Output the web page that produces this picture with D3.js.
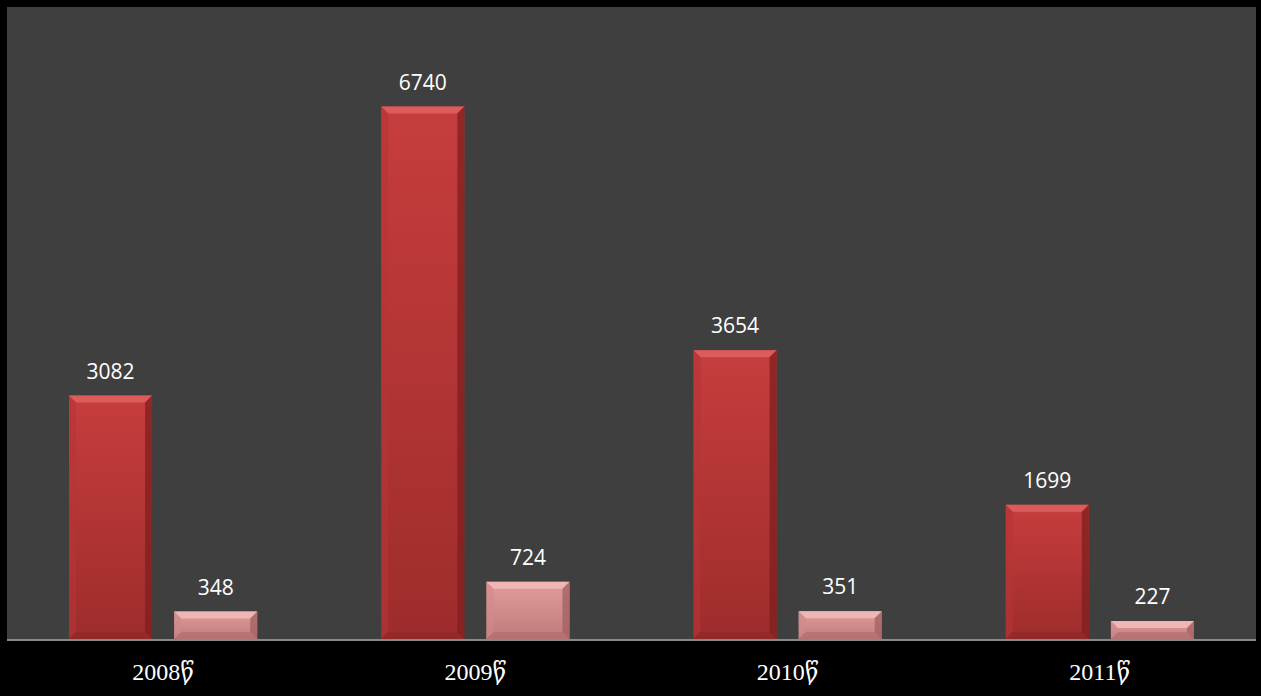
<!DOCTYPE html>
<html>
<head>
<meta charset="utf-8">
<script src="https://cdn.jsdelivr.net/npm/d3@7"></script>
<style>
  body { margin: 0; background: #000; }
  svg { display: block; }
</style>
</head>
<body>
<div class="c_chart"></div>
<script>
/* DATA */
const years = ["2008წ", "2009წ", "2010წ", "2011წ"];
const seriesA = [3082, 6740, 3654, 1699];
const seriesB = [348, 724, 351, 227];
const yMax = 8000;

/* SVG, FORMAT */
const width = 1261;
const height = 696;
const plot = {left: 7, right: 1256, top: 7, bottom: 639};

let svg = d3.select(".c_chart")
	.append("svg")
	.attr("width", width)
	.attr("height", height);

svg.append("rect")
	.attr("width", width).attr("height", height)
	.attr("fill", "#000");

svg.append("rect")
	.attr("x", plot.left).attr("y", plot.top)
	.attr("width", plot.right - plot.left).attr("height", plot.bottom - plot.top)
	.attr("fill", "#3f3f3f");

/* SCALES */
const x = d3.scaleBand()
	.domain(years)
	.range([plot.left, plot.right])
	.paddingInner(0)
	.paddingOuter(0);

const xInner = d3.scaleBand()
	.domain(["a", "b"])
	.range([0, x.bandwidth()])
	.paddingInner(0.21)
	.paddingOuter(0.59);

const y = d3.scaleLinear()
	.domain([0, yMax])
	.range([plot.bottom, plot.top]);

/* GRADIENTS */
const defs = svg.append("defs");
const palettes = {
	a: {top: "#c73d3d", bottom: "#9e2c2c", hi: "#dc5c5c", side: "#7e1f1f", left: "#b53636", low: "#8c2626"},
	b: {top: "#e09c9c", bottom: "#c27a7a", hi: "#f0b6b6", side: "#a06060", left: "#d08b8b", low: "#ad6c6c"}
};
Object.keys(palettes).forEach(function(k){
	const g = defs.append("linearGradient")
		.attr("id", "grad_" + k)
		.attr("x1", 0).attr("y1", 0).attr("x2", 0).attr("y2", 1);
	g.append("stop").attr("offset", "0%").attr("stop-color", palettes[k].top);
	g.append("stop").attr("offset", "100%").attr("stop-color", palettes[k].bottom);
});

/* BARS */
const rows = [];
years.forEach(function(yr, i){
	rows.push({year: yr, key: "a", value: seriesA[i]});
	rows.push({year: yr, key: "b", value: seriesB[i]});
});

const bev = 7;

const bars = svg.append("g").selectAll("g")
	.data(rows)
	.enter()
	.append("g")
	.attr("transform", d => "translate(" + (x(d.year) + xInner(d.key)) + ",0)");

bars.each(function(d){
	const g = d3.select(this);
	const w = xInner.bandwidth();
	const t = y(d.value);
	const b = y(0);
	const p = palettes[d.key];
	const e = Math.min(bev, (b - t) / 2);

	g.append("rect")
		.attr("x", 0).attr("y", t)
		.attr("width", w).attr("height", b - t)
		.attr("fill", "url(#grad_" + d.key + ")");
	// top bevel
	g.append("polygon")
		.attr("points", [[0, t], [w, t], [w - e, t + e], [e, t + e]].join(" "))
		.attr("fill", p.hi);
	// right bevel
	g.append("polygon")
		.attr("points", [[w, t], [w, b], [w - e, b - e], [w - e, t + e]].join(" "))
		.attr("fill", p.side).attr("opacity", 0.75);
	// left bevel
	g.append("polygon")
		.attr("points", [[0, t], [e, t + e], [e, b - e], [0, b]].join(" "))
		.attr("fill", p.left).attr("opacity", 0.6);
	// bottom bevel
	g.append("polygon")
		.attr("points", [[0, b], [e, b - e], [w - e, b - e], [w, b]].join(" "))
		.attr("fill", p.low).attr("opacity", 0.6);
});

/* LABELS */
bars.append("text")
	.attr("x", xInner.bandwidth() / 2)
	.attr("y", d => y(d.value) - 17)
	.attr("text-anchor", "middle")
	.attr("fill", "#ffffff")
	.style("font-family", "'Open Sans', 'Noto Sans', sans-serif")
	.style("font-size", "21px")
	.text(d => d.value);

/* AXIS */
svg.append("line")
	.attr("x1", plot.left).attr("x2", plot.right)
	.attr("y1", plot.bottom + 1).attr("y2", plot.bottom + 1)
	.attr("stroke", "#8a8a8a")
	.attr("stroke-width", 2);

svg.append("g").selectAll("text")
	.data(years)
	.enter()
	.append("text")
	.attr("x", d => x(d) + x.bandwidth() / 2)
	.attr("y", 680)
	.attr("text-anchor", "middle")
	.attr("fill", "#ffffff")
	.style("font-family", "'Liberation Serif', 'DejaVu Serif', serif")
	.style("font-size", "24px")
	.text(d => d);
</script>
</body>
</html>
